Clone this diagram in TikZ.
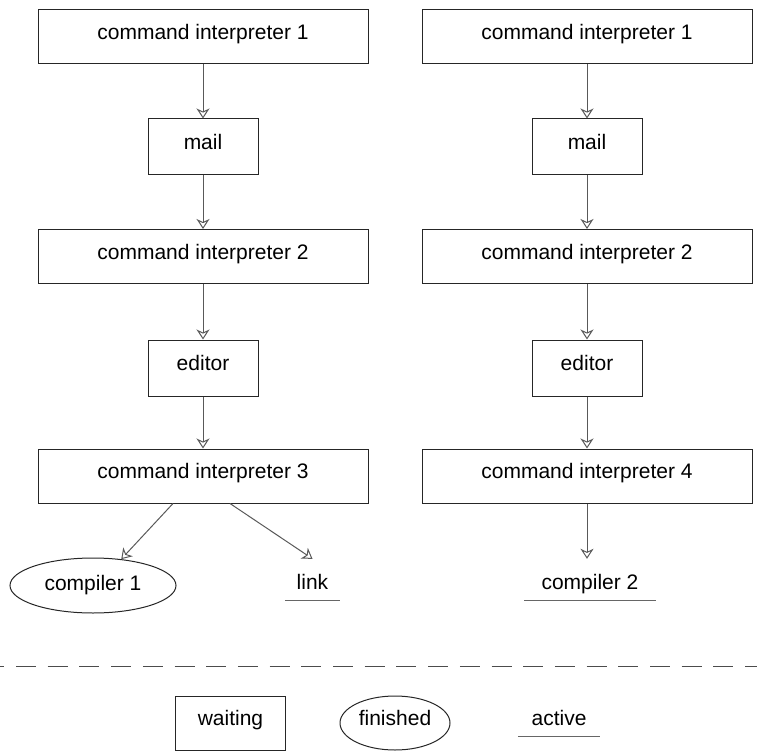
\documentclass[tikz,border=0pt]{standalone}
\usepackage{fontspec}
\setmainfont{Liberation Sans}
\usetikzlibrary{arrows.meta,shapes.geometric}
\begin{document}
\begin{tikzpicture}[x=1pt,y=-1pt,
  every node/.style={font=\fontsize{21}{25}\selectfont, inner sep=0pt},
  wbox/.style={draw=black!85, line width=1pt, text height=15pt, text depth=10pt},
  big/.style={wbox, minimum width=330pt, minimum height=54pt},
  small/.style={wbox, minimum width=110pt, minimum height=56pt},
  fin/.style={draw=black!85, ellipse, line width=1pt},
  act/.style={anchor=base, text height=30pt, text depth=11pt},
  uline/.style={draw=black!60, line width=1pt},
  conn/.style={draw=black!65, line width=1pt, -{Stealth[open,length=10pt,width=13pt,inset=3pt]}}]
\useasboundingbox (0,0) rectangle (757,751);
% left column
\node[big]   (a1) at (203,37)    {command interpreter 1};
\node[small] (a2) at (203,147)   {mail};
\node[big]   (a3) at (203,256.5) {command interpreter 2};
\node[small] (a4) at (203,368)   {editor};
\node[big]   (a5) at (203,476)   {command interpreter 3};
\node[fin, minimum width=166pt, minimum height=55pt, text height=15pt, text depth=5pt] (c1) at (93,585.5) {compiler 1};
\node[act, minimum width=55pt] (lk) at (312.5,589) {link};
% right column
\node[big]   (b1) at (587,37)    {command interpreter 1};
\node[small] (b2) at (587,147)   {mail};
\node[big]   (b3) at (587,256.5) {command interpreter 2};
\node[small] (b4) at (587,368)   {editor};
\node[big]   (b5) at (587,476)   {command interpreter 4};
\node[act, minimum width=131pt] (c2) at (590,589) {compiler 2};
% connectors
\draw[conn] (a1) -- (a2);
\draw[conn] (a2) -- (a3);
\draw[conn] (a3) -- (a4);
\draw[conn] (a4) -- (a5);
\draw[conn] ([xshift=-30pt]a5.south) -- (c1.43);
\draw[conn] ([xshift=27pt]a5.south) -- (lk.north);
\draw[conn] (b1) -- (b2);
\draw[conn] (b2) -- (b3);
\draw[conn] (b3) -- (b4);
\draw[conn] (b4) -- (b5);
\draw[conn] (b5) -- (b5 |- c2.north);
\draw[uline] (lk.south west) -- (lk.south east);
\draw[uline] (c2.south west) -- (c2.south east);
% separator
\coordinate (dl) at (0,666);
\coordinate (dr) at (757,666);
\draw[black!70, line width=1pt, dash pattern=on 20pt off 11.7pt, dash phase=15.7pt] (dl) -- (dr);
% legend
\node[small, minimum height=54pt] (lw) at (230.5,723) {waiting};
\node[fin, minimum width=110pt, minimum height=54pt, text height=15pt, text depth=10pt] (lf) at (395,723) {finished};
\node[act, text height=15pt, minimum width=82pt] (la) at (559,725) {active};
\draw[uline] (la.south west) -- (la.south east);
\end{tikzpicture}
\end{document}
